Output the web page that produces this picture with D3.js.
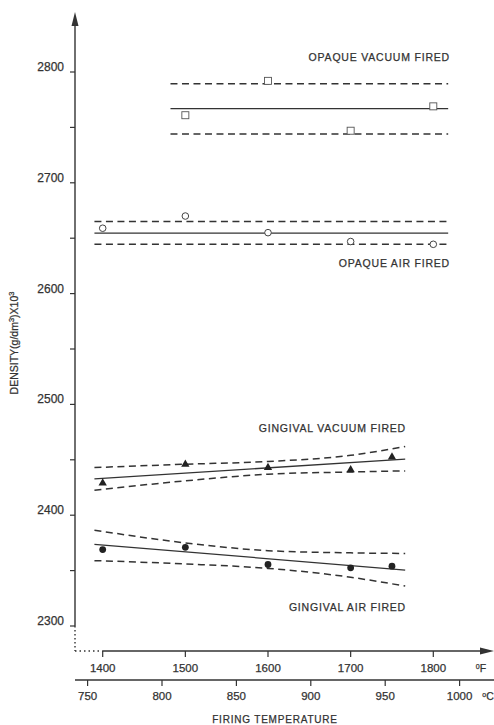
<!DOCTYPE html>
<html><head><meta charset="utf-8">
<script src="https://cdn.jsdelivr.net/npm/d3@7"></script>
<style>body{margin:0;background:#fff}svg{display:block}text{font-family:"Liberation Sans",Arial,sans-serif;fill:#333;stroke:#333;stroke-width:0.25}</style>
</head><body>
<svg id="c" width="494" height="725"></svg>
<script>
// ---- data ----
const yTicks = [2300, 2400, 2500, 2600, 2700, 2800];
const yMinorTicks = [2350, 2450, 2550, 2650, 2750];
const fTicks = [1400, 1500, 1600, 1700, 1800];
const cTicks = [750, 800, 850, 900, 950, 1000];

const opaqueVacPts = [[1500, 2761], [1600, 2792], [1700, 2747], [1800, 2769]];
const opaqueVacFit = [[1482, 2767], [1818, 2767]];
const opaqueVacUp = [[1482, 2789.5], [1818, 2789.5]];
const opaqueVacLo = [[1482, 2744], [1818, 2744]];

const opaqueAirPts = [[1400, 2659], [1500, 2670], [1600, 2655], [1700, 2647], [1800, 2644.5]];
const opaqueAirFit = [[1390, 2654.5], [1818, 2654.5]];
const opaqueAirUp = [[1390, 2665], [1818, 2665]];
const opaqueAirLo = [[1390, 2644.5], [1818, 2644.5]];

const gingVacPts = [[1400, 2429], [1500, 2446], [1600, 2443], [1700, 2441], [1750, 2452.5]];
const gingVacFit = [[1390, 2432.7], [1766, 2450.7]];
const gingVacUp = [[1390, 2443], [1500, 2446], [1600, 2448.5], [1700, 2454], [1766, 2462]];
const gingVacLo = [[1390, 2422.5], [1500, 2431], [1600, 2437], [1700, 2439], [1766, 2440]];

const gingAirPts = [[1400, 2369], [1500, 2371], [1600, 2355.5], [1700, 2352.5], [1750, 2354]];
const gingAirFit = [[1390, 2373.7], [1766, 2350.5]];
const gingAirUp = [[1390, 2386.5], [1500, 2375], [1600, 2368], [1700, 2366], [1766, 2365.5]];
const gingAirLo = [[1390, 2359], [1500, 2356], [1600, 2352], [1700, 2344], [1766, 2336]];

// ---- layout ----
const svg = d3.select("#c");
const ink = "#333";
const y = d3.scaleLinear().domain([2300, 2800]).range([626, 72]);
const xF = d3.scaleLinear().domain([1400, 1800]).range([102.7, 433.3]);
const xC = d3.scaleLinear().domain([750, 1000]).range([87.6, 459.6]);
const axX = 75, axY = 651, cY = 680;

const g = svg.append("g");
// Y axis
g.append("line").attr("x1", axX).attr("x2", axX).attr("y1", 24).attr("y2", y(2300)).attr("stroke", ink).attr("stroke-width", 1.4);
g.append("path").attr("d", `M${axX},12 L${axX-3.5},26 L${axX+3.5},26 Z`).attr("fill", ink);
g.append("line").attr("x1", axX).attr("x2", axX).attr("y1", y(2300)).attr("y2", axY).attr("stroke", ink).attr("stroke-width", 1.4).attr("stroke-dasharray", "1.5,2.5");
g.append("line").attr("x1", axX).attr("x2", xF(1400)).attr("y1", axY).attr("y2", axY).attr("stroke", ink).attr("stroke-width", 1.4).attr("stroke-dasharray", "1.5,3");
yTicks.forEach(t => {
  g.append("line").attr("x1", axX - 5).attr("x2", axX).attr("y1", y(t)).attr("y2", y(t)).attr("stroke", ink).attr("stroke-width", 1.2);
  g.append("text").attr("x", 64).attr("y", y(t) - 1).attr("text-anchor", "end").attr("font-size", 12).text(t);
});
yMinorTicks.forEach(t => {
  g.append("line").attr("x1", axX - 5).attr("x2", axX).attr("y1", y(t)).attr("y2", y(t)).attr("stroke", ink).attr("stroke-width", 1.2);
});
g.append("text").attr("transform", `translate(18,343) rotate(-90)`).attr("text-anchor", "middle").attr("font-size", 10.5)
  .html('DENSITY(g/dm<tspan dy="-4" font-size="7.5">3</tspan><tspan dy="4">)X10</tspan><tspan dy="-4" font-size="7.5">3</tspan>');

// F axis
g.append("line").attr("x1", xF(1400)).attr("x2", 484).attr("y1", axY).attr("y2", axY).attr("stroke", ink).attr("stroke-width", 1.4);
g.append("path").attr("d", `M494,${axY} L480,${axY-3.5} L480,${axY+3.5} Z`).attr("fill", ink);
fTicks.forEach(t => {
  g.append("line").attr("x1", xF(t)).attr("x2", xF(t)).attr("y1", axY).attr("y2", axY + 6).attr("stroke", ink).attr("stroke-width", 1.2);
  g.append("text").attr("x", xF(t)).attr("y", 672).attr("text-anchor", "middle").attr("font-size", 11.5).text(t);
});
g.append("text").attr("x", 481).attr("y", 672).attr("text-anchor", "middle").attr("font-size", 10.5).html('<tspan dy="-3" font-size="7">0</tspan><tspan dy="3">F</tspan>');

// C axis
g.append("line").attr("x1", axX).attr("x2", 494).attr("y1", cY).attr("y2", cY).attr("stroke", ink).attr("stroke-width", 1.3);
cTicks.forEach(t => {
  g.append("line").attr("x1", xC(t)).attr("x2", xC(t)).attr("y1", cY).attr("y2", cY + 6).attr("stroke", ink).attr("stroke-width", 1.2);
  g.append("text").attr("x", xC(t)).attr("y", 700).attr("text-anchor", "middle").attr("font-size", 11.5).text(t);
});
g.append("text").attr("x", 488).attr("y", 700).attr("text-anchor", "middle").attr("font-size", 10.5).html('<tspan dy="-3" font-size="7">o</tspan><tspan dy="3">C</tspan>');
g.append("text").attr("x", 275).attr("y", 723).attr("text-anchor", "middle").attr("font-size", 10).attr("letter-spacing", 0.8).text("FIRING TEMPERATURE");

// lines
const line = d3.line().x(d => xF(d[0])).y(d => y(d[1])).curve(d3.curveMonotoneX);
function drawFit(data, dashed) {
  g.append("path").datum(data).attr("d", line).attr("fill", "none").attr("stroke", ink)
    .attr("stroke-width", dashed ? 1.5 : 1.3).attr("stroke-dasharray", dashed ? "7,4.5" : null);
}
[[opaqueVacFit, false], [opaqueVacUp, true], [opaqueVacLo, true],
 [opaqueAirFit, false], [opaqueAirUp, true], [opaqueAirLo, true],
 [gingVacFit, false], [gingVacUp, true], [gingVacLo, true],
 [gingAirFit, false], [gingAirUp, true], [gingAirLo, true]].forEach(d => drawFit(d[0], d[1]));

// markers
g.selectAll(".sq").data(opaqueVacPts).join("rect").attr("x", d => xF(d[0]) - 3.5).attr("y", d => y(d[1]) - 3.5)
  .attr("width", 7).attr("height", 7).attr("fill", "#fff").attr("stroke", "#555").attr("stroke-width", 0.9);
g.selectAll(".oc").data(opaqueAirPts).join("circle").attr("cx", d => xF(d[0])).attr("cy", d => y(d[1])).attr("r", 3.3)
  .attr("fill", "#fff").attr("stroke", "#444").attr("stroke-width", 1);
const tri = d3.symbol().type(d3.symbolTriangle).size(30);
g.selectAll(".tr").data(gingVacPts).join("path").attr("d", tri).attr("transform", d => `translate(${xF(d[0])},${y(d[1])})`).attr("fill", "#222");
g.selectAll(".fc").data(gingAirPts).join("circle").attr("cx", d => xF(d[0])).attr("cy", d => y(d[1])).attr("r", 3.4).attr("fill", "#222");

// labels
const lab = (x, yy, t) => g.append("text").attr("x", x).attr("y", yy).attr("text-anchor", "end").attr("font-size", 10.5).attr("letter-spacing", 0.8).text(t);
lab(450, 61, "OPAQUE VACUUM FIRED");
lab(450, 267, "OPAQUE AIR FIRED");
lab(406, 432, "GINGIVAL VACUUM FIRED");
lab(406, 611, "GINGIVAL AIR FIRED");
</script>
</body></html>
